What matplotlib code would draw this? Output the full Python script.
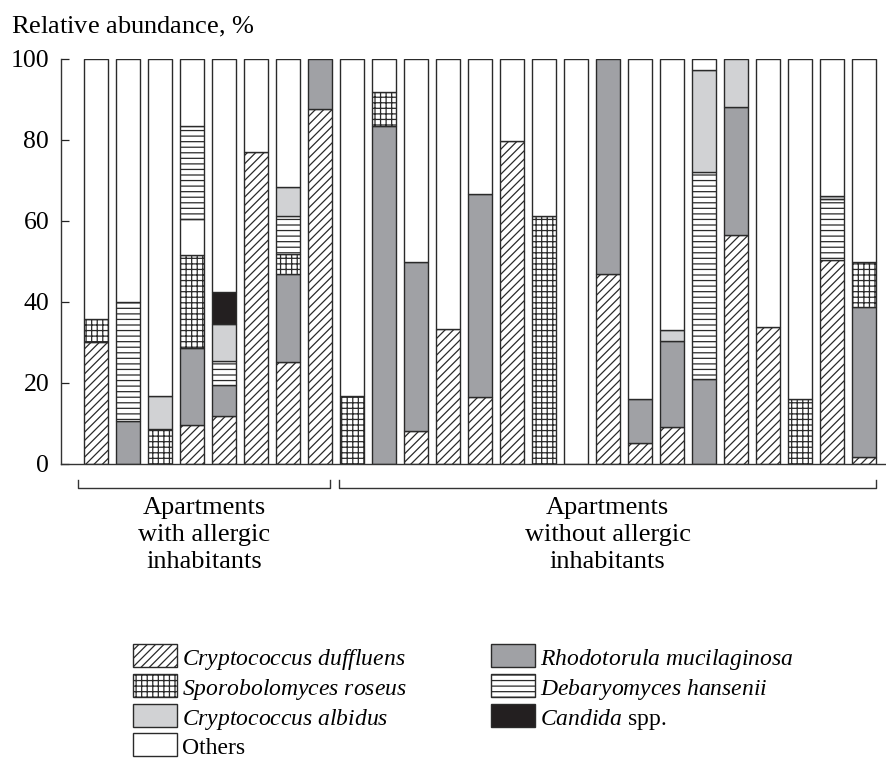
import numpy as np
import matplotlib
matplotlib.use('Agg')
import matplotlib.pyplot as plt
from matplotlib.patches import Rectangle
from matplotlib.lines import Line2D
from matplotlib.transforms import blended_transform_factory

plt.rcParams['font.family'] = ['Liberation Serif', 'DejaVu Serif']
plt.rcParams['mathtext.fontset'] = 'custom'
plt.rcParams['mathtext.rm'] = 'Liberation Serif'
plt.rcParams['mathtext.it'] = 'Liberation Serif:italic'
plt.rcParams['hatch.linewidth'] = 0.9

# relative abundance (%) per apartment, 8 with allergic + 17 without
duff = [30.0, 0, 0, 9.7, 11.8, 76.9, 25.2, 87.7,
        0, 0, 8.2, 33.4, 16.5, 79.8, 0, 0, 47.0, 5.1, 9.2, 0, 56.5, 33.8, 0, 50.4, 1.7]
rhodo = [0, 10.6, 0, 18.8, 7.7, 0, 21.7, 12.3,
         0, 83.4, 41.6, 0, 50.2, 0, 0, 0, 53.0, 10.9, 21.1, 20.9, 31.6, 0, 0, 0, 37.1]
sporo = [5.7, 0, 8.6, 23.1, 0, 0, 5.0, 0,
         16.9, 8.3, 0, 0, 0, 0, 61.3, 0, 0, 0, 0, 0, 0, 0, 16.1, 0, 11.0]
others_mid = [0, 0, 0, 8.9, 0, 0, 0, 0,
              0, 0, 0, 0, 0, 0, 0, 0, 0, 0, 0, 0, 0, 0, 0, 0, 0]
deb = [0, 29.4, 0, 22.9, 6.0, 0, 9.4, 0,
       0, 0, 0, 0, 0, 0, 0, 0, 0, 0, 0, 51.2, 0, 0, 0, 15.0, 0]
albidus = [0, 0, 8.3, 0, 9.1, 0, 7.0, 0,
           0, 0, 0, 0, 0, 0, 0, 0, 0, 0, 2.8, 25.1, 11.9, 0, 0, 0.8, 0]
candida = [0, 0, 0, 0, 7.8, 0, 0, 0,
           0, 0, 0, 0, 0, 0, 0, 0, 0, 0, 0, 0, 0, 0, 0, 0, 0]
n_allergic = 8
group_labels = ['Apartments\nwith allergic\ninhabitants',
                'Apartments\nwithout allergic\ninhabitants']

stack = [duff, rhodo, sporo, others_mid, deb, albidus, candida]
others = 100 - np.sum(np.array(stack), axis=0)
stack.append(others)

white = dict(fc='white', hatch=None)
styles = [dict(fc='white', hatch='////'),
          dict(fc='#a0a1a5', hatch=None),
          dict(fc='white', hatch='+++'),
          white,
          dict(fc='white', hatch='---'),
          dict(fc='#d1d2d4', hatch=None),
          dict(fc='#231f20', hatch=None),
          white]
edge = '#2a2a2a'

W, H = 887, 758
fig = plt.figure(figsize=(W / 100, H / 100), dpi=100)


def fx(px):
    return px / W


def fy(py):
    return 1 - py / H


ax = fig.add_axes([fx(61), fy(464), fx(886 - 61), (464 - 58.7) / H])

x = np.arange(len(duff))
bottom = np.zeros(len(x))
for vals, st in zip(stack, styles):
    h = np.array(vals, dtype=float)
    m = h > 0
    ax.bar(x[m], h[m], bottom=bottom[m], width=0.765, color=st['fc'],
           hatch=st['hatch'], edgecolor=edge, linewidth=1.0)
    bottom += h

ax.set_xlim(-1.086, 24.69)
ax.set_ylim(0, 100)
ax.set_yticks([0, 20, 40, 60, 80, 100])
ax.set_xticks([])
ax.tick_params(axis='y', direction='in', length=6, width=0.9, pad=8.5,
               labelsize=18.5, color='#222222')
for s in ['top', 'right']:
    ax.spines[s].set_visible(False)
for s in ['left', 'bottom']:
    ax.spines[s].set_color('#333333')
    ax.spines[s].set_linewidth(1.0)

fig.text(fx(11), fy(33), r'Relative abundance, $\mathit{\%}$', fontsize=19,
         va='baseline', ha='left')

# group brackets under the axis
tr = blended_transform_factory(ax.transData, ax.transAxes)
y_line = -(488 - 464) / 405.3
y_tick = -(480 - 464) / 405.3
groups = [(0 - 0.55, n_allergic - 1 + 0.33), (n_allergic - 0.4, len(x) - 1 + 0.38)]
for (a, b), lab in zip(groups, group_labels):
    ax.add_line(Line2D([a, a, b, b], [y_tick, y_line, y_line, y_tick], transform=tr,
                       color='#333333', lw=1.0, clip_on=False))
    ax.text((a + b) / 2, -(497 - 464) / 405.3, lab, transform=tr, ha='center',
            va='top', fontsize=19, linespacing=1.3)

# legend, two columns
legend_items = [(r'$\mathit{Cryptococcus\ duffluens}$', styles[0]),
                (r'$\mathit{Sporobolomyces\ roseus}$', styles[2]),
                (r'$\mathit{Cryptococcus\ albidus}$', styles[5]),
                ('Others', styles[7]),
                (r'$\mathit{Rhodotorula\ mucilaginosa}$', styles[1]),
                (r'$\mathit{Debaryomyces\ hansenii}$', styles[4]),
                (r'$\mathit{Candida}$ spp.', styles[6])]
col_x = [133, 491]
row_y = [644, 674, 704, 733]
for i, (lab, st) in enumerate(legend_items):
    c, r = (0, i) if i < 4 else (1, i - 4)
    px, py = col_x[c], row_y[r]
    fig.patches.append(Rectangle((fx(px), fy(py + 23)), fx(44), 23 / H,
                                 transform=fig.transFigure, facecolor=st['fc'],
                                 hatch=st['hatch'], edgecolor=edge, linewidth=1.0))
    fig.text(fx(px + 49), fy(py + 20.5), lab, fontsize=17, va='baseline', ha='left')

fig.savefig('out.png', dpi=100)
